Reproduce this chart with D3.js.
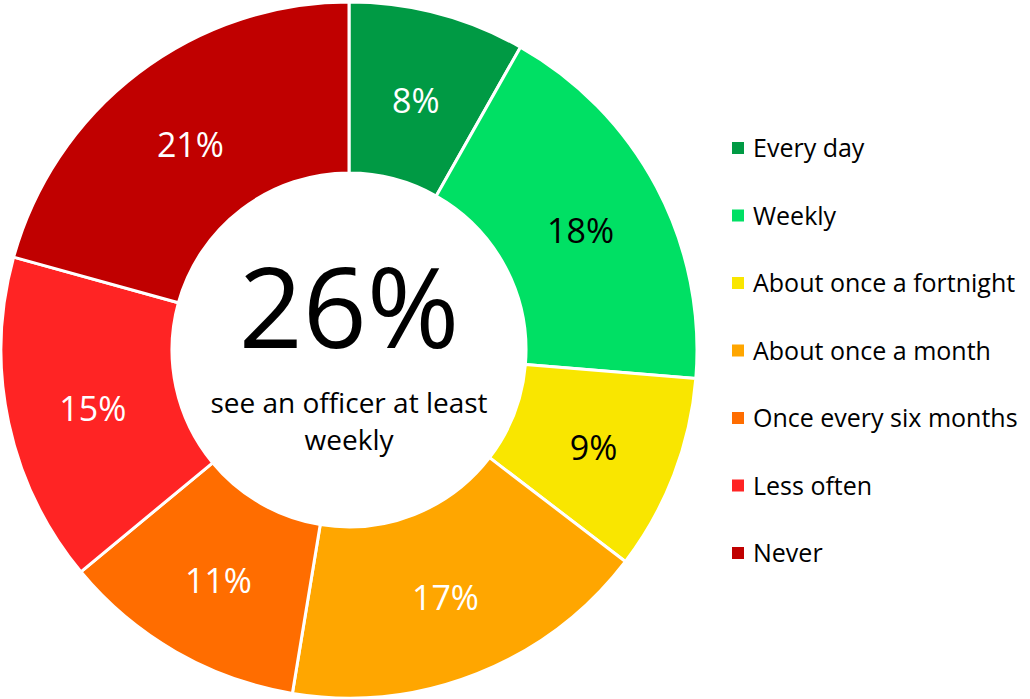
<!DOCTYPE html>
<html><head><meta charset="utf-8">
<script src="https://cdn.jsdelivr.net/npm/d3@7"></script>
<style>body{margin:0;background:#fff}svg{display:block}</style>
</head><body>
<svg id="c" width="1030" height="699"></svg>
<script>
const categories = ["Every day","Weekly","About once a fortnight","About once a month","Once every six months","Less often","Never"];
const values = [8.2, 18.1, 9.1, 17.2, 11.4, 15.3, 20.7];
const colors = ["#009A44","#00E064","#F9E600","#FFA600","#FF6D00","#FF2424","#C00000"];
const labelColors = ["#fff","#000","#000","#fff","#fff","#fff","#fff"];
const centerBig = "26%";
const centerLines = ["see an officer at least","weekly"];

const svg = d3.select("#c");
const font = "'Open Sans', sans-serif";
const cx = 349, cy = 350, rOuter = 348, rInner = 177;
const data = categories.map((c,i)=>({c, v:values[i], col:colors[i], lc:labelColors[i]}));
const pie = d3.pie().value(d=>d.v).sort(null);
const arc = d3.arc().innerRadius(rInner).outerRadius(rOuter);
const g = svg.append("g").attr("transform",`translate(${cx},${cy})`);
const arcs = pie(data);
g.selectAll("path").data(arcs).join("path")
  .attr("d",arc).attr("fill",d=>d.data.col)
  .attr("stroke","#fff").attr("stroke-width",3).attr("stroke-linejoin","round");
const lab = d3.arc().innerRadius(262).outerRadius(262);
g.selectAll("text.lbl").data(arcs).join("text").attr("class","lbl")
  .attr("transform",d=>`translate(${lab.centroid(d)})`)
  .attr("text-anchor","middle").attr("dy","0.47em")
  .attr("font-family",font).attr("font-size",34)
  .attr("fill",d=>d.data.lc)
  .text(d=>Math.round(d.data.v)+"%");

g.append("text").attr("x",0).attr("y",-2).attr("text-anchor","middle")
  .attr("font-family",font).attr("font-size",112).attr("fill","#000").text(centerBig);
centerLines.forEach((t,i)=>{
  g.append("text").attr("x",0).attr("y",63+i*37).attr("text-anchor","middle")
   .attr("font-family",font).attr("font-size",28).attr("fill","#000").text(t);
});

const y = d3.scalePoint().domain(categories).range([148,553]);
const lg = svg.append("g");
data.forEach(d=>{
  lg.append("rect").attr("x",732).attr("y",y(d.c)-6).attr("width",12).attr("height",12).attr("fill",d.col);
  lg.append("text").attr("x",753).attr("y",y(d.c)).attr("dy","0.36em")
    .attr("font-family",font).attr("font-size",25).attr("fill","#000").text(d.c);
});
</script>
</body></html>
